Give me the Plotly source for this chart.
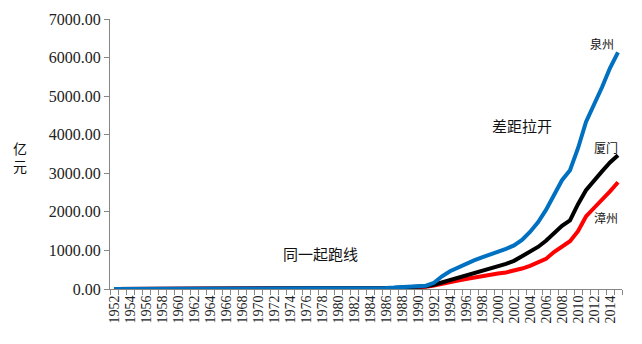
import plotly.graph_objects as go

years = list(range(1952, 2016))

quanzhou = [1.7, 2.0, 2.1, 2.3, 2.5, 2.6, 3.0, 3.1, 2.9, 2.6,
            2.7, 2.9, 3.2, 3.6, 3.9, 3.7, 3.5, 3.9, 4.4, 4.8,
            5.0, 5.4, 5.5, 6.2, 6.0, 6.8, 7.9, 9.0, 10.5, 12.0,
            13.5, 15.0, 19.0, 25.0, 29.0, 36.0, 48.0, 55.0, 64.0, 85.0,
            160, 330, 460, 560, 660, 740, 820, 890, 960, 1040,
            1130, 1270, 1480, 1730, 2050, 2450, 2820, 3080, 3650, 4330,
            4760, 5230, 5730, 6137]

xiamen = [0.9, 1.0, 1.1, 1.2, 1.3, 1.4, 1.7, 1.9, 2.0, 1.6,
          1.6, 1.7, 1.9, 2.1, 2.3, 2.2, 2.0, 2.3, 2.6, 2.9,
          3.0, 3.3, 3.4, 3.8, 3.7, 4.2, 4.8, 5.5, 6.4, 7.4,
          8.5, 10.0, 13.0, 18.0, 22.0, 28.0, 38.0, 46.0, 57.0, 72.0,
          110, 170, 230, 290, 350, 410, 460, 520, 580, 650,
          730, 850, 980, 1090, 1250, 1430, 1640, 1780, 2200, 2560,
          2820, 3050, 3280, 3466]

zhangzhou = [1.5, 1.7, 1.8, 1.9, 2.0, 2.1, 2.4, 2.5, 2.3, 2.1,
             2.2, 2.4, 2.6, 2.9, 3.1, 3.0, 2.9, 3.2, 3.5, 3.8,
             4.0, 4.3, 4.4, 4.9, 4.8, 5.3, 6.0, 7.0, 8.0, 9.0,
             10.0, 11.5, 14.0, 17.0, 21.0, 26.0, 32.0, 39.0, 45.0, 58.0,
             90, 140, 190, 220, 260, 300, 330, 365, 400, 430,
             470, 530, 600, 680, 780, 960, 1100, 1240, 1500, 1880,
             2100, 2300, 2530, 2767]

y_ticks = [0, 1000, 2000, 3000, 4000, 5000, 6000, 7000]
y_labels = [f"{v}.00" for v in y_ticks]
x_ticks = list(range(1952, 2016, 2))

fig = go.Figure()
fig.add_trace(go.Scatter(x=years, y=zhangzhou, mode="lines", name="漳州",
                         line=dict(color="#FF0000", width=4)))
fig.add_trace(go.Scatter(x=years, y=xiamen, mode="lines", name="厦门",
                         line=dict(color="#000000", width=4)))
fig.add_trace(go.Scatter(x=years, y=quanzhou, mode="lines", name="泉州",
                         line=dict(color="#0070C0", width=4)))

axis_color = "#868686"
serif = "Liberation Serif"

fig.update_layout(
    width=642, height=344,
    margin=dict(l=110, r=20, t=19, b=55),
    paper_bgcolor="white", plot_bgcolor="white",
    showlegend=False,
    xaxis=dict(
        range=[1951.5, 2015.5],
        tickmode="array", tickvals=x_ticks, ticktext=[str(y) for y in x_ticks],
        tickangle=-90, ticks="",
        tickfont=dict(family=serif, size=14, color="#222222"),
        showgrid=False, zeroline=False,
        showline=True, linecolor=axis_color, linewidth=1,
        minor=dict(tick0=1951.5, dtick=1, ticks="outside", ticklen=5,
                   tickcolor=axis_color, showgrid=False),
    ),
    yaxis=dict(
        range=[0, 7000],
        tickmode="array", tickvals=y_ticks, ticktext=y_labels,
        ticks="outside", ticklen=5, tickcolor=axis_color,
        tickfont=dict(family=serif, size=16, color="#222222"),
        showgrid=False, zeroline=False,
        showline=True, linecolor=axis_color, linewidth=1,
    ),
)

cjk = "Noto Sans CJK SC"

def px_to_paper(px, py):
    return (px - 110) / 512, (289 - py) / 270

annots = [
    ("泉州", 602, 43, 12),
    ("厦门", 606, 147, 12),
    ("漳州", 606, 217, 12),
    ("差距拉开", 522, 125, 15),
    ("同一起跑线", 320, 253, 15),
    ("亿<br>元", 20, 157, 14),
]
for text, px, py, size in annots:
    xp, yp = px_to_paper(px, py)
    fig.add_annotation(x=xp, y=yp, xref="paper", yref="paper", text=text,
                       showarrow=False, xanchor="center", yanchor="middle",
                       font=dict(family=cjk, size=size, color="#111111"))

fig.write_html("out.html")
